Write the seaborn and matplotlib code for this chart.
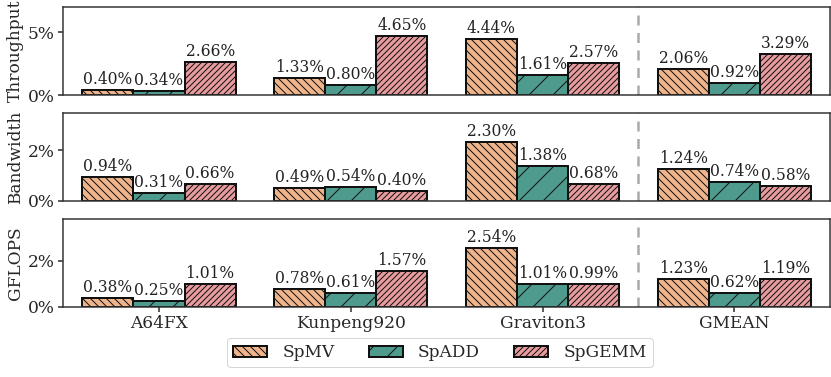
import pandas as pd
import matplotlib
matplotlib.use('Agg')
import matplotlib.pyplot as plt
import seaborn as sns

platforms = ['A64FX', 'Kunpeng920', 'Graviton3', 'GMEAN']
kernels = ['SpMV', 'SpADD', 'SpGEMM']

# Mejoras en porcentaje por métrica
throughput = {
    'SpMV': [0.40, 1.33, 4.44, 2.06],
    'SpADD': [0.34, 0.80, 1.61, 0.92],
    'SpGEMM': [2.66, 4.65, 2.57, 3.29],
}
bandwidth = {
    'SpMV': [0.94, 0.49, 2.30, 1.24],
    'SpADD': [0.31, 0.54, 1.38, 0.74],
    'SpGEMM': [0.66, 0.40, 0.68, 0.58],
}
gflops = {
    'SpMV': [0.38, 0.78, 2.54, 1.23],
    'SpADD': [0.25, 0.61, 1.01, 0.62],
    'SpGEMM': [1.01, 1.57, 0.99, 1.19],
}
metrics = [('Throughput', throughput, [0, 5]),
           ('Bandwidth', bandwidth, [0, 2]),
           ('GFLOPS', gflops, [0, 2])]

colors = ['#F0B48C', '#4E9A8C', '#E89C9F']
hatches = ['\\\\\\', '/', '////']

sns.set_style('ticks')
plt.rcParams['font.family'] = ['DejaVu Serif']
plt.rcParams['axes.linewidth'] = 1.5
plt.rcParams['axes.edgecolor'] = '#333333'
plt.rcParams['hatch.linewidth'] = 1.0

fig, axes = plt.subplots(3, 1, figsize=(831 / 72, 377 / 72), dpi=72, sharex=True)
fig.subplots_adjust(left=0.076, right=0.999, top=0.981, bottom=0.186, hspace=0.205)

for i, (name, values, ticks) in enumerate(metrics):
    ax = axes[i]
    rows = []
    for k in kernels:
        for p, v in zip(platforms, values[k]):
            rows.append({'platform': p, 'kernel': k, 'value': v})
    df = pd.DataFrame(rows)
    sns.barplot(data=df, x='platform', y='value', hue='kernel', order=platforms,
                hue_order=kernels, palette=colors, edgecolor='#111111', linewidth=2,
                saturation=1, legend=False, ax=ax)
    for cont, h in zip(ax.containers, hatches):
        for bar in cont:
            bar.set_hatch(h)
        ax.bar_label(cont, fmt='%.2f%%', padding=2, fontsize=15.5, color='#222222')
    ymax = max(max(v) for v in values.values())
    ax.set_ylim(0, ymax * 1.5)
    ax.set_yticks(ticks)
    ax.set_yticklabels([f'{t}%' for t in ticks])
    ax.set_ylabel(name, fontsize=17)
    ax.set_xlabel('')
    ax.set_xlim(-0.5, 3.5)
    ax.axvline(2.5, color='#AAAAAA', ls='--', lw=2.5, dashes=(4, 3))
    ax.tick_params(axis='both', labelsize=17, width=1.5, length=5)
    if i < 2:
        ax.tick_params(axis='x', bottom=False)

fig.legend(axes[2].containers, kernels, loc='lower center', bbox_to_anchor=(440 / 831, 0.003),
           ncol=3, fontsize=17, frameon=True, handlelength=2.0, columnspacing=2.0,
           handletextpad=0.9, borderpad=0.35)

fig.savefig('out.png', dpi=72)
